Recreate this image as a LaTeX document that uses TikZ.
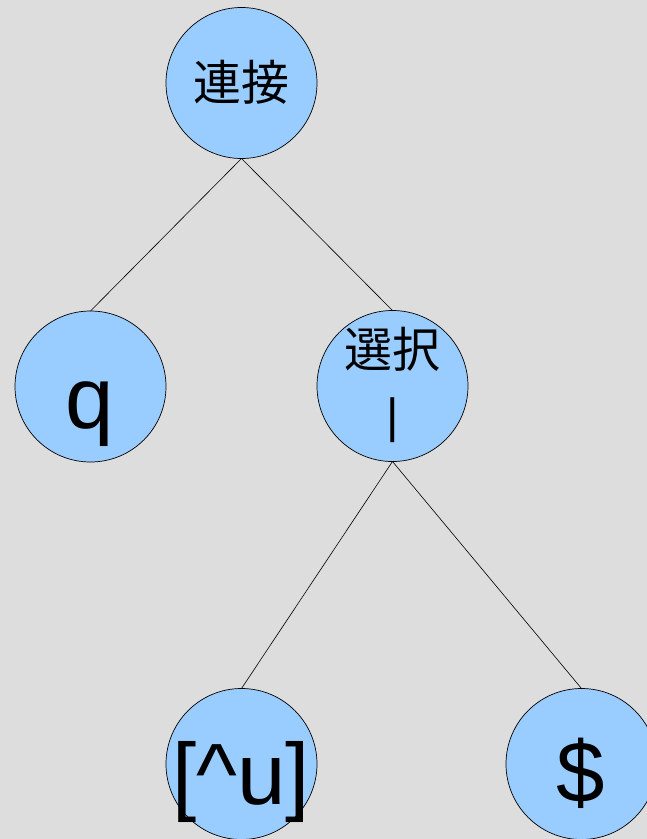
\documentclass[tikz,border=0pt]{standalone}
\usepackage{fontspec}
\setmainfont{Liberation Sans}
\newfontfamily\cjk{Noto Sans CJK JP}
\definecolor{bg}{HTML}{DDDDDD}
\definecolor{nodefill}{HTML}{99CCFF}
\tikzset{
  treenode/.style={circle, draw=black, line width=0.7pt, fill=nodefill,
    minimum size=151pt, inner sep=0pt, outer sep=0pt},
  edge/.style={draw=black, line width=0.6pt},
  biglbl/.style={inner sep=0pt, anchor=base, font=\fontsize{87}{87}\selectfont},
  cjklbl/.style={inner sep=0pt, anchor=center, font=\cjk\fontsize{48}{48}\selectfont},
  barlbl/.style={inner sep=0pt, anchor=center, font=\fontsize{48}{48}\selectfont}
}
\begin{document}
\begin{tikzpicture}[x=1pt, y=-1pt]
  \fill[bg] (0,0) rectangle (647,839);
  \useasboundingbox (0,0) rectangle (647,839);
  % tree nodes
  \node[treenode] (root) at (241.5,83) {};
  \node[treenode] (q) at (90.5,386.5) {};
  \node[treenode] (sel) at (392.5,386) {};
  \node[treenode] (neg) at (241.5,764) {};
  \node[treenode] (dollar) at (581.5,764) {};
  % connectors
  \draw[edge] (root.south) -- (q.north);
  \draw[edge] (root.south) -- (sel.north);
  \draw[edge] (sel.south) -- (neg.north);
  \draw[edge] (sel.south) -- (dollar.north);
  % labels
  \node[cjklbl] (rootlbl) at (241.5,82) {連接};
  \node[cjklbl] (sellbl) at (392.5,349) {選択};
  \node[barlbl] (selbar) at (393,420) {|};
  \node[biglbl] (qlbl) at (89.5,428) {q};
  \node[biglbl] (neglbl) at (241,804) {[\^{}u]};
  \node[biglbl] (dollarlbl) at (581,802) {\$};
\end{tikzpicture}
\end{document}
